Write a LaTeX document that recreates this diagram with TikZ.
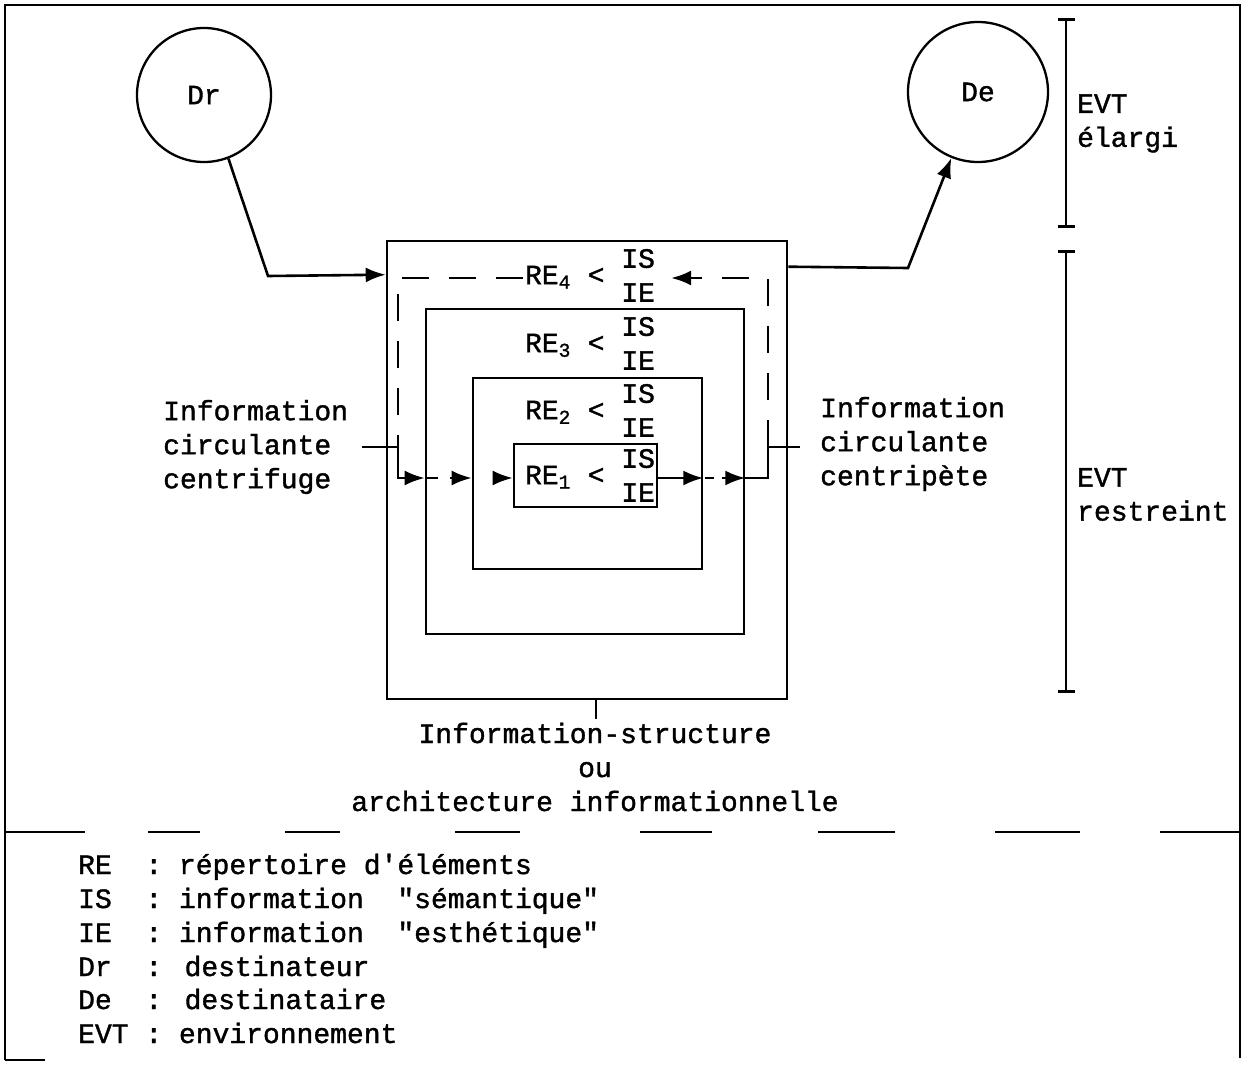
\documentclass[tikz,border=0pt]{standalone}
\usepackage{fontspec}
\setmainfont{Liberation Mono}[Ligatures=TeXOff,RawFeature={embolden=1.3}]
\usetikzlibrary{arrows.meta}
\newcommand{\relab}[1]{RE\textsubscript{#1}~<~\begin{tabular}{@{}l@{}}IS\\IE\end{tabular}}
\begin{document}
\begin{tikzpicture}[x=1pt,y=-1pt,
  ln/.style={line width=2.6pt},
  tip/.style={-{Latex[length=20pt,width=15pt]}},
  barb/.style={{Bar[width=17pt]}-{Bar[width=17pt]}},
  box/.style={draw,ln,rectangle,inner sep=0pt},
  circ/.style={draw,line width=2.3pt,circle,inner sep=0pt,font=\fontsize{28}{34}\selectfont},
  txt/.style={inner sep=0pt,font=\fontsize{28}{34}\selectfont},
  dsh/.style={ln,dash pattern=on 27pt off 20pt},
]
\useasboundingbox (0,0) rectangle (1243,1065);
% frame
\draw[ln] (5,1060) -- (5,5) -- (1240,5) -- (1240,1058);
\draw[ln] (5,1060) -- (45,1060);
% circles
\node[circ,minimum size=134pt] (Dr) at (204,95) {Dr};
\node[circ,minimum size=140pt] (De) at (978,92) {De};
% boxes
\node[box,minimum width=400pt,minimum height=458pt] (b4) at (587,470) {};
\node[box,minimum width=318pt,minimum height=325pt] (b3) at (585,471.5) {};
\node[box,minimum width=229pt,minimum height=191pt] (b2) at (587.5,473.5) {};
\node[box,minimum width=143pt,minimum height=63pt] (b1) at (585.5,475.5) {};
% RE labels
\node[txt] (re4) at (590,278) {\relab{4}};
\node[txt] (re3) at (590,346) {\relab{3}};
\node[txt] (re2) at (590,413) {\relab{2}};
\node[txt] (re1) at (590,478) {\relab{1}};
% Dr / De connectors
\draw[ln,tip] (Dr.-69) -- (268,276) -- ([yshift=-35pt]b4.north west);
\draw[ln,tip] ([yshift=-27pt]b4.north east) -- (908,268) -- (De.-112);
% circulating loop
\coordinate (row) at (0,478);
\coordinate (LT) at (398,278);
\coordinate (RT) at (768,278);
\coordinate (LM) at (398,447);
\coordinate (RM) at (768,447);
\coordinate (Ls) at (362,447);
\coordinate (Rs) at (800,447);
\coordinate (Ta) at (696,278);
\draw[dsh] ([xshift=-2pt]re4.west) -- (LT) -- (LM);
\draw[dsh] (RM) -- (RT) -- (Ta);
\draw[ln,tip] (Ta) -- ([xshift=16pt]re4.east);
\draw[ln] (Ls) -- (LM);
\draw[ln] (RM) -- (Rs);
\draw[ln,tip] (LM) -- (LM|-row) -- (b3.west|-row);
\draw[ln] (427,478) -- (438,478);
\draw[ln,tip] (450,478) -- (b2.west|-row);
\draw[ln,tip] (494,478) -- (b1.west|-row);
\draw[ln,tip] (b1.east|-row) -- (b2.east|-row);
\draw[ln] (705,478) -- (714,478);
\draw[ln,tip] (722,478) -- (b3.east|-row);
\draw[ln] (b3.east|-row) -- (RM|-row) -- (RM);
% side labels
\node[txt,align=left,anchor=west] (cf) at (163,447) {Information\\circulante\\centrifuge};
\node[txt,align=left,anchor=west] (cp) at (820,444) {Information\\circulante\\centripète};
% bottom of box
\coordinate (tk) at ([xshift=9pt]b4.south);
\draw[ln] (tk) -- ++(0,19);
\node[txt,align=center] (isT) at (595,767) {Information-structure\\ou\\architecture informationnelle};
% EVT brackets
\draw[ln,barb] (1066,18) -- (1066,228);
\draw[ln,barb] (1066,250) -- (1066,693);
\node[txt,align=left,anchor=west] (ev1) at (1077,123.5) {EVT\\élargi};
\node[txt,align=left,anchor=west] (ev2) at (1077,494.5) {EVT\\restreint};
% separator
\foreach \a/\b in {5/85,148/200,285/340,455/520,640/712,818/895,995/1080,1160/1240}
  \draw[ln] (\a,832) -- (\b,832);
% legend
\node[txt,anchor=base west] (l1) at (78,874) {RE~~: répertoire d'éléments};
\node[txt,anchor=base west] (l2) at (78,908) {IS~~: information~~"sémantique"};
\node[txt,anchor=base west] (l3) at (78,942) {IE~~: information~~"esthétique"};
\node[txt,anchor=base west] (l4) at (78,976) {Dr~~: destinateur};
\node[txt,anchor=base west] (l5) at (78,1009) {De~~: destinataire};
\node[txt,anchor=base west] (l6) at (78,1043) {EVT~: environnement};
\end{tikzpicture}
\end{document}
